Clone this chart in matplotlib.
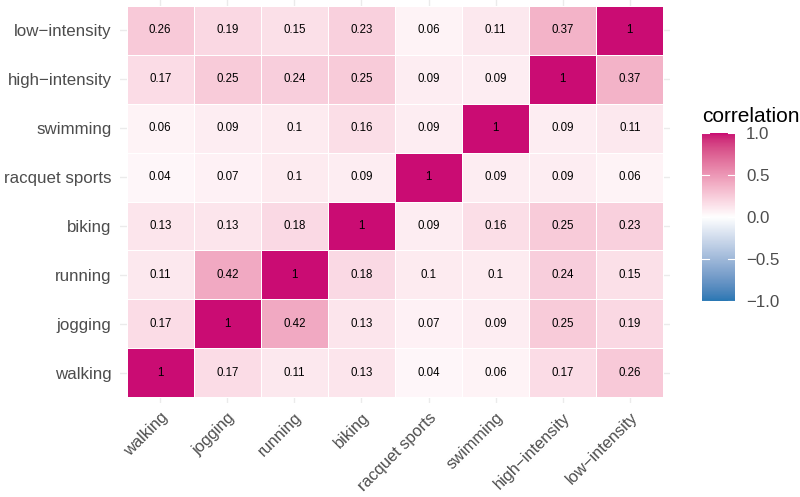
import numpy as np
import matplotlib
matplotlib.use("Agg")
import matplotlib.pyplot as plt
from matplotlib.colors import ListedColormap, to_rgb

# ---- data ----
activities = ["walking", "jogging", "running", "biking", "racquet sports",
              "swimming", "high−intensity", "low−intensity"]
walking = [1, 0.17, 0.11, 0.13, 0.04, 0.06, 0.17, 0.26]
jogging = [0.17, 1, 0.42, 0.13, 0.07, 0.09, 0.25, 0.19]
running = [0.11, 0.42, 1, 0.18, 0.1, 0.1, 0.24, 0.15]
biking = [0.13, 0.13, 0.18, 1, 0.09, 0.16, 0.25, 0.23]
racquet_sports = [0.04, 0.07, 0.1, 0.09, 1, 0.09, 0.09, 0.06]
swimming = [0.06, 0.09, 0.1, 0.16, 0.09, 1, 0.09, 0.11]
high_intensity = [0.17, 0.25, 0.24, 0.25, 0.09, 0.09, 1, 0.37]
low_intensity = [0.26, 0.19, 0.15, 0.23, 0.06, 0.11, 0.37, 1]
rows = [walking, jogging, running, biking, racquet_sports, swimming,
        high_intensity, low_intensity]
cbar_ticks = [-1.0, -0.5, 0.0, 0.5, 1.0]
cbar_labels = ["−1.0", "−0.5", "0.0", "0.5", "1.0"]

# ---- Lab-interpolated diverging colormap (like ggplot scale_fill_gradient2) ----
def srgb_to_lin(c):
    c = np.asarray(c)
    return np.where(c <= 0.04045, c / 12.92, ((c + 0.055) / 1.055) ** 2.4)

def lin_to_srgb(c):
    c = np.clip(c, 0, 1)
    return np.where(c <= 0.0031308, c * 12.92, 1.055 * c ** (1 / 2.4) - 0.055)

M = np.array([[0.4124, 0.3576, 0.1805], [0.2126, 0.7152, 0.0722], [0.0193, 0.1192, 0.9505]])
Minv = np.linalg.inv(M)
WHITE = np.array([0.95047, 1.0, 1.08883])

def f(t):
    d = 6 / 29
    return np.where(t > d ** 3, np.cbrt(t), t / (3 * d * d) + 4 / 29)

def finv(t):
    d = 6 / 29
    return np.where(t > d, t ** 3, 3 * d * d * (t - 4 / 29))

def rgb2lab(rgb):
    xyz = M @ srgb_to_lin(rgb) / WHITE
    fx, fy, fz = f(xyz)
    return np.array([116 * fy - 16, 500 * (fx - fy), 200 * (fy - fz)])

def lab2rgb(lab):
    L, a, b = lab
    fy = (L + 16) / 116
    fx = fy + a / 500
    fz = fy - b / 200
    xyz = np.array([finv(fx), finv(fy), finv(fz)]) * WHITE
    return lin_to_srgb(Minv @ xyz)

low_c = rgb2lab(to_rgb("#2A78B4"))
mid_c = rgb2lab(to_rgb("#FFFFFF"))
high_c = rgb2lab(to_rgb("#CA0C73"))
cols = []
N = 256
for i in range(N):
    t = i / (N - 1) * 2 - 1
    if t < 0:
        lab = mid_c + (low_c - mid_c) * (-t)
    else:
        lab = mid_c + (high_c - mid_c) * t
    cols.append(lab2rgb(lab))
cmap = ListedColormap(np.clip(np.array(cols), 0, 1))

plt.rcParams["font.family"] = ["Liberation Sans", "DejaVu Sans"]

fig = plt.figure(figsize=(8, 4.97), dpi=100)
ax = fig.add_axes([120 / 800, 1 - 403 / 497, 550 / 800, 403 / 497])

data = np.array(rows)
n = len(activities)
ax.set_xlim(-0.6, n - 0.4)
ax.set_ylim(-0.62, n - 0.38)
for k in range(n):
    ax.axvline(k, color="#EBEBEB", lw=1.0, zorder=0)
    ax.axhline(k, color="#EBEBEB", lw=1.0, zorder=0)
xe = np.arange(n + 1) - 0.5
ax.pcolormesh(xe, xe, data, cmap=cmap, vmin=-1, vmax=1,
              edgecolor="white", linewidth=0.4, zorder=1)
for i in range(n):
    for j in range(n):
        ax.text(j, i, f"{data[i, j]:g}", ha="center", va="center",
                fontsize=8.3, color="black", zorder=2)

for s in ax.spines.values():
    s.set_visible(False)
ax.set_xticks(range(n))
ax.set_yticks(range(n))
ax.set_xticklabels(activities, rotation=45, ha="right", va="top",
                   rotation_mode="anchor", fontsize=11.8, color="#4D4D4D")
ax.set_yticklabels(activities, fontsize=12.2, color="#4D4D4D")
ax.tick_params(axis="y", length=0, pad=6)
ax.tick_params(axis="x", length=0, pad=5)

# ---- colorbar ----
cb_left, cb_bottom, cb_w, cb_h = 702 / 800, 1 - 301 / 497, 33 / 800, 168 / 497
cax = fig.add_axes([cb_left, cb_bottom, cb_w, cb_h])
grad = np.linspace(-1, 1, 300).reshape(-1, 1)
cax.imshow(grad, cmap=cmap, vmin=-1, vmax=1, aspect="auto", origin="lower",
           extent=[0, 1, -1, 1])
cax.set_xlim(0, 1)
cax.set_ylim(-1, 1)
for v in cbar_ticks:
    cax.plot([0, 0.2], [v, v], color="white", lw=0.8)
    cax.plot([0.8, 1], [v, v], color="white", lw=0.8)
cax.set_xticks([])
cax.set_yticks(cbar_ticks)
cax.set_yticklabels(cbar_labels, fontsize=12.2, color="#4D4D4D")
cax.yaxis.tick_right()
cax.tick_params(length=0, pad=8)
for s in cax.spines.values():
    s.set_visible(False)

fig.text(cb_left, 1 - 122 / 497, "correlation", fontsize=15, color="black",
         ha="left", va="baseline")

fig.savefig("out.png", dpi=100, facecolor="white")
